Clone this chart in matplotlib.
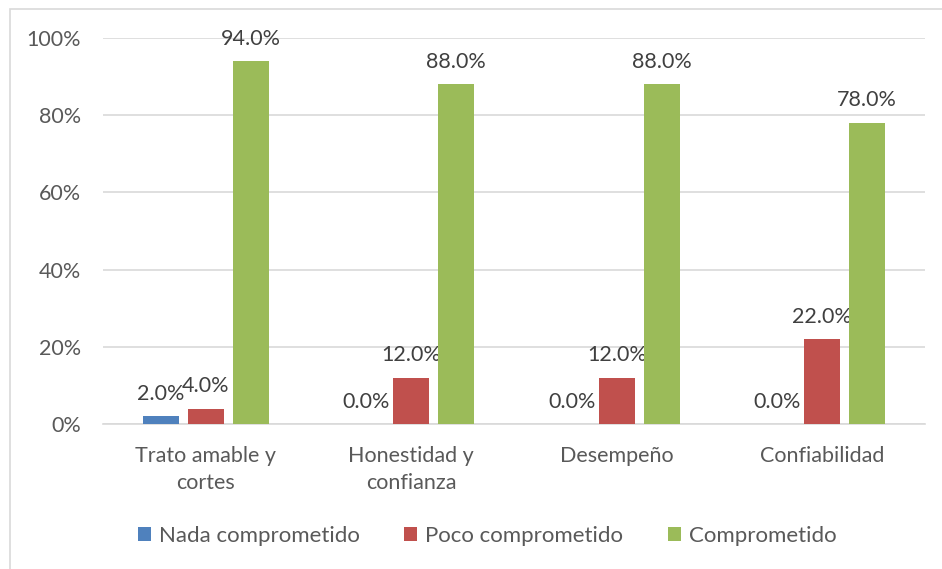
import matplotlib
matplotlib.use("Agg")
import matplotlib.pyplot as plt
import numpy as np
from matplotlib.patches import Rectangle

categories = ["Trato amable y\ncortes", "Honestidad y\nconfianza", "Desempeño", "Confiabilidad"]
series_names = ["Nada comprometido", "Poco comprometido", "Comprometido"]
nada = [2.0, 0.0, 0.0, 0.0]
poco = [4.0, 12.0, 12.0, 22.0]
comprometido = [94.0, 88.0, 88.0, 78.0]
yticks = [0, 20, 40, 60, 80, 100]
colors = ["#4F81BD", "#C0504D", "#9BBB59"]

plt.rcParams["font.family"] = ["Lato", "DejaVu Sans"]

fig = plt.figure(figsize=(9.42, 5.69), dpi=100)
ax = fig.add_axes([103 / 942, 1 - 424 / 569, (925 - 103) / 942, (424 - 38) / 569])

x = np.arange(len(categories))
width = 0.175
step = 0.219
values = [nada, poco, comprometido]
for i, (name, vals, col) in enumerate(zip(series_names, values, colors)):
    pos = x + (i - 1) * step
    ax.bar(pos, vals, width=width, color=col, label=name, zorder=3)
    for p, v in zip(pos, vals):
        ax.annotate(f"{v:.1f}%", (p, v), xytext=(0, 9), textcoords="offset points",
                    ha="center", va="bottom", fontsize=15.5, color="#404040")

ax.set_xlim(-0.5, len(categories) - 0.5)
ax.set_ylim(0, 100)
ax.set_yticks(yticks)
ax.set_yticklabels([f"{t}%" for t in yticks])
ax.set_xticks(x)
ax.set_xticklabels(categories, linespacing=1.45)
ax.tick_params(axis="both", length=0, labelsize=15.5, labelcolor="#595959")
ax.tick_params(axis="y", pad=16)
ax.tick_params(axis="x", pad=16)
ax.yaxis.grid(True, color="#D9D9D9", linewidth=1.2, zorder=0)
ax.set_axisbelow(True)
for s in ["top", "right", "left"]:
    ax.spines[s].set_visible(False)
ax.spines["bottom"].set_color("#D9D9D9")
ax.spines["bottom"].set_linewidth(1.2)

fig.legend(loc="center", bbox_to_anchor=(487 / 942, 1 - 536 / 569), ncol=3,
           frameon=False, fontsize=16, handlelength=0.6, handleheight=0.6,
           handletextpad=0.35, columnspacing=2.0, labelcolor="#595959")

fig.patches.append(Rectangle((10 / 942, -0.1), 1.2, 1 - 9 / 569 + 0.1,
                             transform=fig.transFigure, fill=False,
                             edgecolor="#D9D9D9", linewidth=1.2))

fig.savefig("out.png", dpi=100)
